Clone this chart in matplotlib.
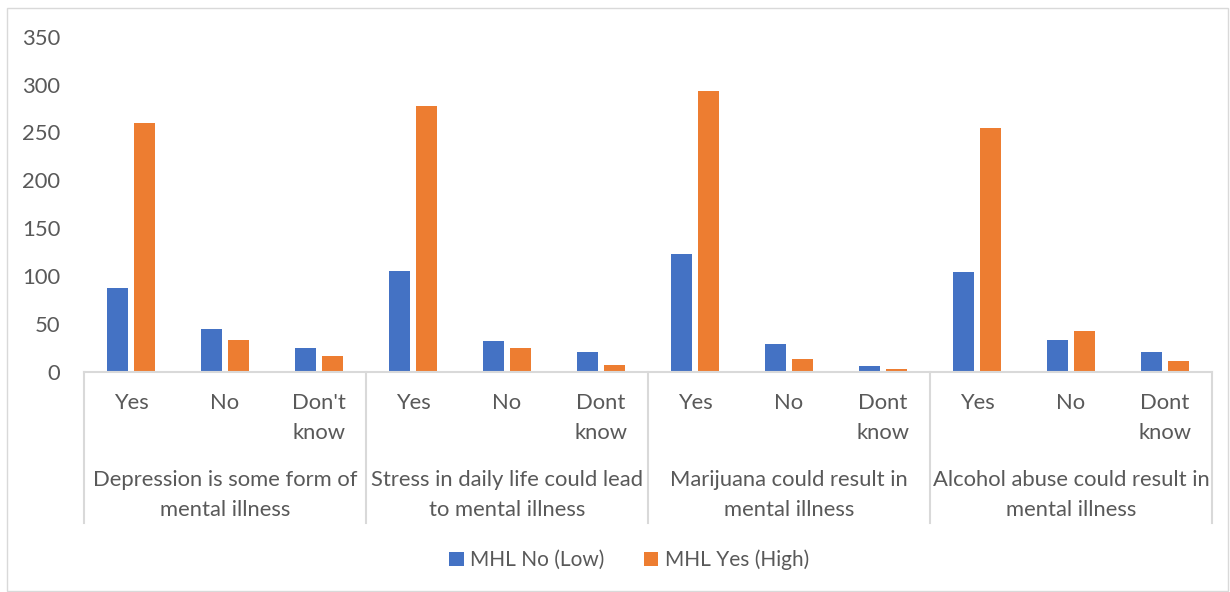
import numpy as np
import matplotlib.pyplot as plt
from matplotlib.patches import Rectangle
from matplotlib.transforms import blended_transform_factory

plt.rcParams['font.family'] = ['Lato', 'DejaVu Sans']

# data
groups = ["Depression is some form of\nmental illness",
          "Stress in daily life could lead\nto mental illness",
          "Marijuana could result in\nmental illness",
          "Alcohol abuse could result in\nmental illness"]
answers = [["Yes", "No", "Don't\nknow"],
           ["Yes", "No", "Dont\nknow"],
           ["Yes", "No", "Dont\nknow"],
           ["Yes", "No", "Dont\nknow"]]
mhl_low = [88, 45, 25, 105, 32, 21, 123, 29, 6, 104, 33, 21]
mhl_high = [260, 33, 17, 278, 25, 7, 293, 14, 3, 255, 43, 12]

blue = '#4472C4'
orange = '#ED7D31'
txt = '#595959'
line = '#D9D9D9'
fs = 15.8

fig = plt.figure(figsize=(12.3, 5.92), dpi=100)
W, H = 1230, 592
# chart border
fig.patches.append(Rectangle((7 / W, 1 - 591 / H), 1221 / W, 583 / H, transform=fig.transFigure,
                             fill=False, edgecolor=line, linewidth=1))

ax = fig.add_axes([84 / W, 1 - 372 / H, (1212 - 84) / W, (372 - 36.7) / H])
x = np.arange(len(mhl_low))
w = 0.223
off = 0.144
ax.bar(x - off, mhl_low, w, color=blue, label='MHL No (Low)')
ax.bar(x + off, mhl_high, w, color=orange, label='MHL Yes (High)')

ax.set_xlim(-0.5, len(x) - 0.5)
ax.set_ylim(0, 350)
ax.set_yticks(range(0, 351, 50))
ax.tick_params(axis='y', length=0, labelsize=fs, labelcolor=txt, pad=17)
ax.set_xticks([])
for s in ['top', 'right', 'left']:
    ax.spines[s].set_visible(False)
ax.spines['bottom'].set_color(line)
ax.spines['bottom'].set_linewidth(1.5)

trans = blended_transform_factory(ax.transData, ax.transAxes)
labels = [a for grp in answers for a in grp]
for i, lab in enumerate(labels):
    ax.annotate(lab, xy=(i, 0), xycoords=trans, xytext=(0, -21), textcoords='offset pixels',
                ha='center', va='top', fontsize=fs, color=txt, linespacing=1.6)
for g, name in enumerate(groups):
    ax.annotate(name, xy=(g * 3 + 1, 0), xycoords=trans, xytext=(0, -98), textcoords='offset pixels',
                ha='center', va='top', fontsize=fs, color=txt, linespacing=1.6)

depth = (523 - 372) / (372 - 36.7)
for b in np.arange(-0.5, len(x), 3):
    ax.plot([b, b], [0, -depth], transform=trans, color=line, lw=1.5, clip_on=False)

fig.legend(loc='center', bbox_to_anchor=(629 / W, 1 - 560 / H), ncol=2, frameon=False,
           fontsize=15, labelcolor=txt, handlelength=0.7, handleheight=0.7,
           handletextpad=0.3, columnspacing=1.9)

plt.savefig('out.png')
